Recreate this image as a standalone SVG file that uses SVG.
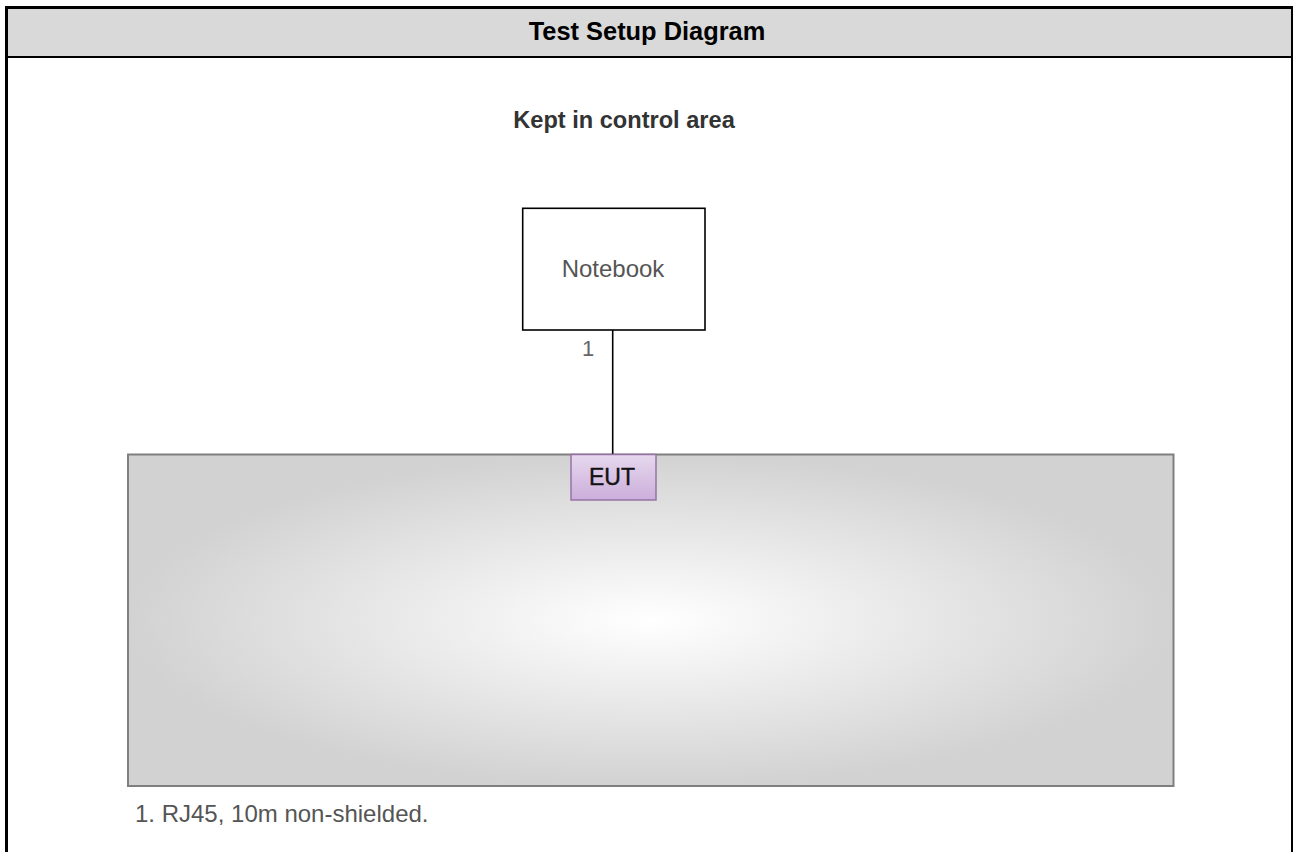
<svg xmlns="http://www.w3.org/2000/svg" width="1293" height="852" viewBox="0 0 1293 852">
<style>
.t{font-family:"Liberation Sans",Arial,sans-serif}
.title{font-size:25.4px;font-weight:bold;fill:#000}
.lbl{font-size:24px;fill:#555}
</style>
<defs>
<radialGradient id="tableGrad" cx="0.5" cy="0.5" r="0.5">
<stop offset="0" stop-color="#ffffff"/>
<stop offset="1" stop-color="#d2d2d2"/>
</radialGradient>
<linearGradient id="eutGrad" x1="0" y1="0" x2="0" y2="1">
<stop offset="0" stop-color="#e6d8ee"/>
<stop offset="1" stop-color="#ccaedb"/>
</linearGradient>
</defs>
<rect width="1293" height="852" fill="#ffffff"/>
<g id="frame">
<rect x="6.5" y="7.5" width="1286" height="49" fill="#d9d9d9"/>
<line x1="6.5" y1="57" x2="1293" y2="57" stroke="#000" stroke-width="2"/>
<rect x="6.5" y="7.5" width="1286" height="900" fill="none" stroke="#000" stroke-width="3"/>
<text class="t title" x="647" y="40" text-anchor="middle">Test Setup Diagram</text>
</g>
<g id="area-label">
<text class="t" x="624" y="128" text-anchor="middle" font-size="23.6" font-weight="bold" fill="#333">Kept in control area</text>
</g>
<g id="table">
<rect x="128" y="454.5" width="1045.5" height="331.5" fill="url(#tableGrad)" stroke="#7f7f7f" stroke-width="2"/>
</g>
<g id="connectors">
<line x1="612.7" y1="330" x2="612.7" y2="454" stroke="#000" stroke-width="1.6"/>
<text class="t" x="588" y="356" text-anchor="middle" font-size="22" fill="#666">1</text>
</g>
<g id="notebook">
<rect x="522.7" y="208.3" width="182.3" height="121.7" fill="#fff" stroke="#000" stroke-width="1.6"/>
<text class="t lbl" x="613" y="277" text-anchor="middle">Notebook</text>
</g>
<g id="eut">
<rect x="571" y="454.5" width="85" height="45.5" fill="url(#eutGrad)" stroke="#9673a6" stroke-width="1.5"/>
<text class="t" x="612" y="485" text-anchor="middle" font-size="23" fill="#111" stroke="#111" stroke-width="0.4">EUT</text>
</g>
<g id="note">
<text class="t lbl" x="135" y="822" font-size="23.7">1. RJ45, 10m non-shielded.</text>
</g>
</svg>
